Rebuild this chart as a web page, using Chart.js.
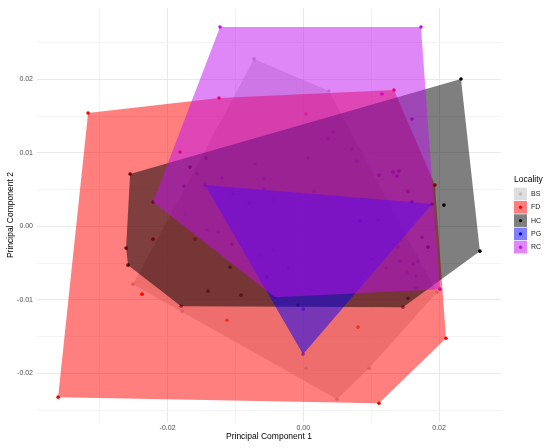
<!DOCTYPE html>
<html><head><meta charset="utf-8">
<script src="https://cdn.jsdelivr.net/npm/chart.js@4.4.0/dist/chart.umd.min.js"></script>
<style>html,body{margin:0;padding:0;background:#fff}#wrap{width:550px;height:448px;position:relative}</style>
</head><body><div id="wrap"><canvas id="c" width="550" height="448"></canvas></div>
<script>
const groups = ['BS','FD','HC','PG','RC'];
const bsX = [-0.00726, 0.00379, 0.01969, 0.00496, 0.00040, 0.00968, -0.01786, -0.02508, -0.01742];
const bsY = [0.02276, 0.01841, -0.00894, -0.02350, -0.01928, -0.01928, -0.01152, -0.00785, 0.00167];
const fdX = [-0.03171, -0.01242, 0.01336, 0.01940, 0.02102, 0.01115, -0.03613, -0.01816, -0.02376, -0.01124, 0.00806, 0.00040, -0.02214, -0.01595];
const fdY = [0.01541, 0.01746, 0.01854, 0.00562, -0.01520, -0.02404, -0.02322, 0.01011, -0.00921, -0.01275, -0.01370, 0.01528, -0.00173, -0.00173];
const hcX = [0.02323, 0.02602, 0.02072, 0.01542, 0.01468, -0.01801, -0.02582, -0.02611, -0.02552, -0.01050, -0.01404, -0.00918, -0.01080, -0.01669, 0.01837, -0.01433, -0.00078];
const hcY = [0.02004, -0.00336, 0.00290, -0.00976, -0.01098, -0.01084, -0.00527, -0.00295, 0.00712, -0.00241, -0.00880, -0.00935, -0.00554, 0.00807, -0.00282, 0.00929, -0.01070];
const pgX = [-0.01448, 0.01895, -0.00004, 0.00000, -0.00446, -0.00800, 0.00835, 0.01100, 0.01601, -0.00225, -0.00535, -0.01035];
const pgY = [0.00562, 0.00303, -0.01737, -0.01125, 0.00358, 0.00317, 0.00072, 0.00086, 0.00331, -0.00567, -0.00690, 0.00439];
const rcX = [-0.01227, 0.01733, 0.02013, -0.02214, -0.00417, 0.01159, 0.01601, 0.00437, 0.00364, 0.00717, 0.00069, 0.00791, 0.01115, 0.01321, 0.01409, 0.01380, 0.00158, 0.01542, -0.01566, -0.01197, -0.00711, -0.00579, -0.00579, -0.01757, -0.01256, -0.01418, -0.00638, -0.00446, 0.01012, 0.01218, 0.01527, 0.01660, 0.01616, 0.01424, 0.01689, 0.01336, 0.01395, 0.01660, 0.00128, 0.01748];
const rcY = [0.02712, 0.02712, -0.00853, 0.00331, -0.00962, 0.01800, 0.01460, 0.01283, 0.01188, 0.01052, 0.00929, 0.00888, 0.00698, 0.00739, 0.00752, 0.00684, 0.00480, 0.00480, 0.00712, 0.00657, 0.00848, 0.00644, 0.00507, 0.00548, -0.00078, -0.00050, -0.00390, -0.00322, -0.00445, -0.00567, -0.00635, -0.00676, -0.00513, -0.00472, -0.00472, -0.00241, -0.00282, -0.00840, -0.00853, -0.00146];

const xMajorTicks = [-0.02, 0.00, 0.02];
const xTickLabels = ['-0.02', '0.00', '0.02'];
const xMinorTicks = [-0.03, -0.01, 0.01];
const yMajorTicks = [-0.02, -0.01, 0.00, 0.01, 0.02];
const yTickLabels = ['-0.02', '-0.01', '0.00', '0.01', '0.02'];
const yMinorTicks = [-0.025, -0.015, -0.005, 0.005, 0.015, 0.025];

const seriesX = [bsX, fdX, hcX, pgX, rcX];
const seriesY = [bsY, fdY, hcY, pgY, rcY];
const pointColors = ['#BEBEBE', '#FF0000', '#000000', '#0000FF', '#C010F0'];
const fillColors = ['rgba(190,190,190,0.5)', 'rgba(255,0,0,0.5)', 'rgba(0,0,0,0.5)', 'rgba(0,0,255,0.5)', 'rgba(192,16,240,0.5)'];
const FONT = '"Liberation Sans", Arial, Helvetica, sans-serif';

function hull(pts) {
  const p = pts.slice().sort((a, b) => a.x - b.x || a.y - b.y);
  const cross = (o, a, b) => (a.x - o.x) * (b.y - o.y) - (a.y - o.y) * (b.x - o.x);
  const lower = [], upper = [];
  for (const q of p) { while (lower.length >= 2 && cross(lower[lower.length-2], lower[lower.length-1], q) <= 0) lower.pop(); lower.push(q); }
  for (let i = p.length - 1; i >= 0; i--) { const q = p[i]; while (upper.length >= 2 && cross(upper[upper.length-2], upper[upper.length-1], q) <= 0) upper.pop(); upper.push(q); }
  upper.pop(); lower.pop();
  const h = lower.concat(upper);
  h.push(h[0]);
  return h;
}

const datasets = [];
let allX = [], allY = [];
groups.forEach((g, i) => {
  const pts = seriesX[i].map((x, k) => ({x, y: seriesY[i][k]}));
  allX = allX.concat(seriesX[i]); allY = allY.concat(seriesY[i]);
  datasets.push({
    label: g + ' points', data: pts, showLine: false,
    pointRadius: 1.8, pointBackgroundColor: pointColors[i], pointBorderWidth: 0,
    borderColor: 'rgba(0,0,0,0)', order: 20
  });
  datasets.push({
    label: g + ' hull', data: hull(pts), showLine: true, fill: 'shape', tension: 0,
    backgroundColor: fillColors[i], borderColor: 'rgba(0,0,0,0)', borderWidth: 0,
    pointRadius: 0, order: 10 - i
  });
});
const xr = [Math.min(...allX), Math.max(...allX)], yr = [Math.min(...allY), Math.max(...allY)];
const xe = (xr[1] - xr[0]) * 0.05, ye = (yr[1] - yr[0]) * 0.05;

const near = (v, arr) => arr.findIndex(t => Math.abs(t - v) < 1e-9);

const legendPlugin = {
  id: 'customLegend',
  afterDraw(chart) {
    const ctx = chart.ctx;
    ctx.save();
    ctx.textBaseline = 'middle'; ctx.textAlign = 'left';
    ctx.fillStyle = '#000'; ctx.font = '8.5px ' + FONT;
    ctx.fillText('Locality', 514, 180);
    groups.forEach((g, i) => {
      const cy = 194 + i * 13.3;
      ctx.fillStyle = '#fff'; ctx.fillRect(514, cy - 6.3, 13, 12.6);
      ctx.fillStyle = fillColors[i]; ctx.fillRect(514, cy - 6.3, 13, 12.6);
      ctx.fillStyle = pointColors[i];
      ctx.beginPath(); ctx.arc(520.5, cy, 1.7, 0, Math.PI * 2); ctx.fill();
      ctx.fillStyle = '#1A1A1A'; ctx.font = '7px ' + FONT;
      ctx.fillText(g, 531, cy);
    });
    ctx.restore();
  }
};

new Chart(document.getElementById('c'), {
  type: 'scatter',
  data: { datasets },
  plugins: [legendPlugin],
  options: {
    responsive: false, animation: false, events: [],
    layout: { padding: { top: 8, right: 49, left: 0, bottom: 0 } },
    plugins: { legend: { display: false }, tooltip: { enabled: false },
      filler: { drawTime: 'beforeDatasetDraw' } },
    scales: {
      x: {
        type: 'linear', min: xr[0] - xe, max: xr[1] + xe,
        afterFit(s) { s.height = 26; },
        afterBuildTicks(s) { s.ticks = xMinorTicks.concat(xMajorTicks).sort((a,b)=>a-b).map(v => ({value: v})); },
        grid: { drawTicks: false, lineWidth: 1,
          color: c => near(c.tick.value, xMajorTicks) >= 0 ? '#E9E9E9' : '#F3F3F3' },
        border: { display: false },
        ticks: { autoSkip: false, maxRotation: 0, padding: 2, color: '#4D4D4D', font: { size: 7, family: FONT },
          callback: v => { const k = near(v, xMajorTicks); return k >= 0 ? xTickLabels[k] : ''; } },
        title: { display: true, text: 'Principal Component 1', color: '#000', font: { size: 8.5, family: FONT }, padding: { top: 0, bottom: 6 } }
      },
      y: {
        type: 'linear', min: yr[0] - ye, max: yr[1] + ye,
        afterFit(s) { s.width = 37; },
        afterBuildTicks(s) { s.ticks = yMinorTicks.concat(yMajorTicks).sort((a,b)=>a-b).map(v => ({value: v})); },
        grid: { drawTicks: false, lineWidth: 1,
          color: c => near(c.tick.value, yMajorTicks) >= 0 ? '#E9E9E9' : '#F3F3F3' },
        border: { display: false },
        ticks: { autoSkip: false, padding: 4, color: '#4D4D4D', font: { size: 7, family: FONT },
          callback: v => { const k = near(v, yMajorTicks); return k >= 0 ? yTickLabels[k] : ''; } },
        title: { display: true, text: 'Principal Component 2', color: '#000', font: { size: 8.5, family: FONT }, padding: { top: 6, bottom: 0 } }
      }
    }
  }
});
</script></body></html>
